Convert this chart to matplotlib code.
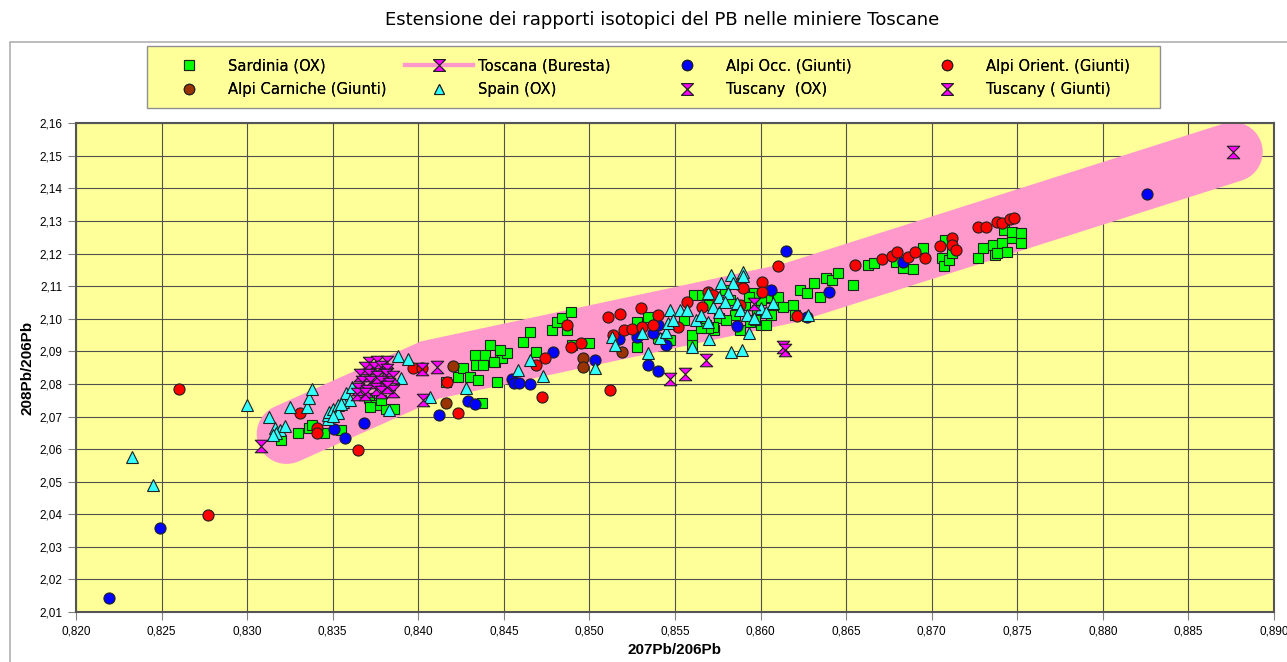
import matplotlib.pyplot as plt
from matplotlib.path import Path
from matplotlib.lines import Line2D
from matplotlib.patches import Rectangle
from matplotlib.ticker import FuncFormatter, MultipleLocator

# valori (207Pb/206Pb, 208Pb/206Pb)
sardinia_x = [0.8320, 0.8330, 0.8336, 0.8338, 0.8345, 0.8355, 0.8371, 0.8375, 0.8372, 0.8381,
              0.8386, 0.8378, 0.8416, 0.8423, 0.8426, 0.8430, 0.8433, 0.8434, 0.8435, 0.8439,
              0.8442, 0.8438, 0.8445, 0.8448, 0.8449, 0.8452, 0.8446, 0.8437, 0.8469, 0.8461,
              0.8465, 0.8478, 0.8481, 0.8484, 0.8489, 0.8487, 0.8490, 0.8500, 0.8528, 0.8534,
              0.8528, 0.8540, 0.8547, 0.8560, 0.8560, 0.8561, 0.8566, 0.8570, 0.8576, 0.8582,
              0.8585, 0.8591, 0.8594, 0.8598, 0.8603, 0.8606, 0.8610, 0.8568, 0.8573, 0.8588,
              0.8579, 0.8600, 0.8555, 0.8619, 0.8620, 0.8623, 0.8627, 0.8631, 0.8638, 0.8642,
              0.8645, 0.8635, 0.8654, 0.8663, 0.8666, 0.8679, 0.8683, 0.8689, 0.8695, 0.8706,
              0.8707, 0.8710, 0.8708, 0.8712, 0.8727, 0.8730, 0.8736, 0.8737, 0.8741, 0.8742,
              0.8747, 0.8747, 0.8752, 0.8752, 0.8744, 0.8738, 0.8610, 0.8604, 0.8613, 0.8600,
              0.8596, 0.8593, 0.8580, 0.8572, 0.8569, 0.8565, 0.8597, 0.8603, 0.8448, 0.8444]
sardinia_y = [2.0628, 2.0649, 2.0665, 2.0674, 2.0649, 2.0659, 2.0757, 2.0736, 2.0729, 2.0723,
              2.0723, 2.0751, 2.0806, 2.0822, 2.0849, 2.0822, 2.0889, 2.0858, 2.0812, 2.0889,
              2.0920, 2.0858, 2.0867, 2.0898, 2.0880, 2.0895, 2.0806, 2.0742, 2.0898, 2.0929,
              2.0960, 2.0966, 2.0990, 2.1003, 2.1021, 2.0966, 2.0920, 2.0926, 2.0914, 2.1006,
              2.0990, 2.0941, 2.0935, 2.0920, 2.0950, 2.1073, 2.1073, 2.1043, 2.1003, 2.1058,
              2.1012, 2.1043, 2.0990, 2.1027, 2.1064, 2.1012, 2.1043, 2.0981, 2.0966, 2.0966,
              2.1089, 2.0981, 2.0996, 2.1043, 2.1012, 2.1089, 2.1080, 2.1110, 2.1125, 2.1119,
              2.1141, 2.1067, 2.1104, 2.1165, 2.1171, 2.1174, 2.1156, 2.1153, 2.1217, 2.1186,
              2.1162, 2.1180, 2.1242, 2.1202, 2.1186, 2.1217, 2.1226, 2.1196, 2.1233, 2.1272,
              2.1248, 2.1266, 2.1263, 2.1233, 2.1205, 2.1202, 2.1067, 2.1067, 2.1036, 2.1058,
              2.1079, 2.1067, 2.0996, 2.0975, 2.0972, 2.0972, 2.0996, 2.0981, 2.0904, 2.0867]

buresta_x = [0.8323, 0.8407, 0.8617, 0.8876]
buresta_y = [2.0646, 2.0843, 2.1079, 2.1512]

alpi_occ_x = [0.8219, 0.8249, 0.8351, 0.8357, 0.8368, 0.8412, 0.8429, 0.8433, 0.8455, 0.8456,
              0.8459, 0.8465, 0.8479, 0.8503, 0.8534, 0.8540, 0.8545, 0.8528, 0.8517, 0.8537,
              0.8540, 0.8586, 0.8606, 0.8615, 0.8627, 0.8640, 0.8683, 0.8826]
alpi_occ_y = [2.0143, 2.0359, 2.0662, 2.0634, 2.0680, 2.0705, 2.0747, 2.0738, 2.0815, 2.0803,
              2.0803, 2.0800, 2.0898, 2.0874, 2.0858, 2.0840, 2.0920, 2.0944, 2.0938, 2.0957,
              2.0981, 2.0978, 2.1089, 2.1208, 2.1006, 2.1082, 2.1174, 2.1383]

alpi_orient_x = [0.8260, 0.8277, 0.8331, 0.8341, 0.8341, 0.8365, 0.8397, 0.8402, 0.8417, 0.8423,
                 0.8469, 0.8474, 0.8472, 0.8487, 0.8489, 0.8495, 0.8512, 0.8511, 0.8518, 0.8530,
                 0.8520, 0.8525, 0.8531, 0.8537, 0.8540, 0.8514, 0.8552, 0.8557, 0.8566, 0.8569,
                 0.8572, 0.8587, 0.8590, 0.8601, 0.8601, 0.8610, 0.8621, 0.8588, 0.8655, 0.8671,
                 0.8677, 0.8680, 0.8686, 0.8690, 0.8696, 0.8705, 0.8712, 0.8712, 0.8714, 0.8727,
                 0.8732, 0.8738, 0.8741, 0.8746, 0.8748]
alpi_orient_y = [2.0786, 2.0399, 2.0711, 2.0665, 2.0649, 2.0597, 2.0849, 2.0849, 2.0806, 2.0711,
                 2.0858, 2.0880, 2.0760, 2.0981, 2.0914, 2.0926, 2.0782, 2.1006, 2.1015, 2.1033,
                 2.0966, 2.0969, 2.0975, 2.0981, 2.1012, 2.0951, 2.0975, 2.1052, 2.1036, 2.1082,
                 2.1073, 2.1107, 2.1095, 2.1113, 2.1082, 2.1162, 2.1009, 2.1043, 2.1165, 2.1183,
                 2.1193, 2.1205, 2.1190, 2.1205, 2.1186, 2.1223, 2.1248, 2.1226, 2.1211, 2.1281,
                 2.1281, 2.1297, 2.1294, 2.1306, 2.1309]

alpi_carniche_x = [0.8420, 0.8416, 0.8496, 0.8496, 0.8519]
alpi_carniche_y = [2.0855, 2.0742, 2.0880, 2.0852, 2.0898]

spain_x = [0.8233, 0.8245, 0.8300, 0.8313, 0.8316, 0.8319, 0.8322, 0.8317, 0.8315, 0.8325,
           0.8335, 0.8336, 0.8338, 0.8347, 0.8347, 0.8348, 0.8350, 0.8353, 0.8353, 0.8356,
           0.8358, 0.8360, 0.8361, 0.8355, 0.8350, 0.8388, 0.8394, 0.8390, 0.8383, 0.8407,
           0.8428, 0.8465, 0.8458, 0.8473, 0.8503, 0.8513, 0.8515, 0.8531, 0.8534, 0.8541,
           0.8545, 0.8546, 0.8560, 0.8570, 0.8547, 0.8553, 0.8549, 0.8557, 0.8562, 0.8565,
           0.8569, 0.8572, 0.8576, 0.8577, 0.8583, 0.8584, 0.8590, 0.8581, 0.8586, 0.8588,
           0.8592, 0.8593, 0.8596, 0.8600, 0.8603, 0.8607, 0.8576, 0.8579, 0.8583, 0.8589,
           0.8569, 0.8628, 0.8590]
spain_y = [2.0576, 2.0490, 2.0735, 2.0699, 2.0665, 2.0659, 2.0671, 2.0649, 2.0643, 2.0730,
           2.0730, 2.0757, 2.0785, 2.0693, 2.0705, 2.0714, 2.0723, 2.0736, 2.0711, 2.0745,
           2.0772, 2.0751, 2.0791, 2.0739, 2.0702, 2.0886, 2.0877, 2.0818, 2.0720, 2.0760,
           2.0788, 2.0874, 2.0843, 2.0824, 2.0849, 2.0944, 2.0920, 2.0957, 2.0895, 2.0941,
           2.0960, 2.0987, 2.0914, 2.0938, 2.1027, 2.1027, 2.0996, 2.1027, 2.0996, 2.1012,
           2.0990, 2.1036, 2.1067, 2.1110, 2.1134, 2.1110, 2.1144, 2.1079, 2.1049, 2.1027,
           2.1012, 2.0957, 2.1003, 2.1033, 2.1021, 2.1049, 2.1021, 2.1052, 2.0898, 2.0904,
           2.1079, 2.1012, 2.1130]

tuscany_ox_x = [0.8371, 0.8376, 0.8382, 0.8369, 0.8374, 0.8378, 0.8382, 0.8366, 0.8371, 0.8376,
                0.8381, 0.8385, 0.8367, 0.8372, 0.8378, 0.8383, 0.8365, 0.8370, 0.8375, 0.8385,
                0.8364, 0.8369, 0.8378, 0.8382]
tuscany_ox_y = [2.0864, 2.0867, 2.0867, 2.0849, 2.0849, 2.0852, 2.0843, 2.0828, 2.0828, 2.0822,
                2.0828, 2.0822, 2.0806, 2.0806, 2.0806, 2.0800, 2.0785, 2.0779, 2.0785, 2.0779,
                2.0770, 2.0770, 2.0776, 2.0791]

tuscany_giunti_x = [0.8308, 0.8402, 0.8411, 0.8403, 0.8568, 0.8556, 0.8547, 0.8613, 0.8614, 0.8596]
tuscany_giunti_y = [2.0610, 2.0846, 2.0852, 2.0751, 2.0874, 2.0831, 2.0815, 2.0914, 2.0904, 2.1046]

legend_labels = ["Sardinia (OX)", "Alpi Carniche (Giunti)",
                 "Toscana (Buresta)", "Spain (OX)",
                 "Alpi Occ. (Giunti)", "Tuscany  (OX)",
                 "Alpi Orient. (Giunti)", "Tuscany ( Giunti)"]

# marker a clessidra
hourglass = Path([(-1, 1), (1, 1), (-1, -1), (1, -1), (-1, 1)],
                 [Path.MOVETO, Path.LINETO, Path.LINETO, Path.LINETO, Path.CLOSEPOLY])

W, H = 1287, 662
fig = plt.figure(figsize=(W / 100, H / 100), dpi=100)
fig.patches.append(Rectangle((10 / W, -0.1), 1.2, 1.1 - 42 / H, transform=fig.transFigure,
                             fill=False, edgecolor="#b0b0b0", lw=1.2))
ax = fig.add_axes([76 / W, 50 / H, 1198 / W, 488.7 / H])
ax.set_facecolor("#ffff99")

edge = "#202020"
ax.plot(buresta_x, buresta_y, color="#ff99cc", lw=43, solid_capstyle="round",
        solid_joinstyle="miter", zorder=2)
ax.plot(buresta_x[-1:], buresta_y[-1:], ls="none", marker=hourglass, ms=9,
        mfc="#ff00ff", mec=edge, mew=0.8, zorder=5)

ax.plot(sardinia_x, sardinia_y, ls="none", marker="s", ms=7.5, mfc="#00ff00", mec=edge, mew=0.8, zorder=3)
ax.plot(alpi_carniche_x, alpi_carniche_y, ls="none", marker="o", ms=8, mfc="#993300", mec=edge, mew=0.8, zorder=3)
ax.plot(alpi_occ_x, alpi_occ_y, ls="none", marker="o", ms=8, mfc="#0000ff", mec=edge, mew=0.8, zorder=3)
ax.plot(alpi_orient_x, alpi_orient_y, ls="none", marker="o", ms=8, mfc="#ff0000", mec=edge, mew=0.8, zorder=3)
ax.plot(spain_x, spain_y, ls="none", marker="^", ms=8.5, mfc="#33ffff", mec=edge, mew=0.8, zorder=4)
ax.plot(tuscany_ox_x, tuscany_ox_y, ls="none", marker=hourglass, ms=9, mfc="#ff00ff", mec=edge, mew=0.8, zorder=4)
ax.plot(tuscany_giunti_x, tuscany_giunti_y, ls="none", marker=hourglass, ms=9, mfc="#ff00ff", mec=edge, mew=0.8, zorder=4)

ax.set_xlim(0.820, 0.890)
ax.set_ylim(2.01, 2.16)
ax.xaxis.set_major_locator(MultipleLocator(0.005))
ax.yaxis.set_major_locator(MultipleLocator(0.01))
ax.xaxis.set_major_formatter(FuncFormatter(lambda v, p: f"{v:.3f}".replace(".", ",")))
ax.yaxis.set_major_formatter(FuncFormatter(lambda v, p: f"{v:.2f}".replace(".", ",")))
ax.tick_params(length=6, width=0.8, color="#808080", labelsize=8.5, pad=4)
ax.grid(True, color="#505050", lw=0.8, zorder=1)
ax.set_axisbelow(True)
for s in ax.spines.values():
    s.set_color("#555555")
    s.set_linewidth(1.5)

ax.set_xlabel("207Pb/206Pb", fontsize=11, fontweight="bold", family="Liberation Sans", labelpad=4)
ax.set_ylabel("208Pb/206Pb", fontsize=11, fontweight="bold", family="Liberation Sans", labelpad=3)
for lab in ax.get_xticklabels() + ax.get_yticklabels():
    lab.set_family("Liberation Sans")

fig.text(662 / W, 1 - 20 / H, "Estensione dei rapporti isotopici del PB nelle miniere Toscane",
         ha="center", va="center", fontsize=13)

# legenda: riquadro + 4 colonne
fig.patches.append(Rectangle((147 / W, 1 - 108 / H), 1013 / W, 62 / H, transform=fig.transFigure,
                             facecolor="#ffff99", edgecolor="#909090", lw=1.0, zorder=0))

def h(marker, color, ms=7.5):
    return Line2D([], [], ls="none", marker=marker, ms=ms, mfc=color, mec=edge, mew=0.8)

handles = [h("s", "#00ff00", 7), h("o", "#993300"),
           Line2D([], [], color="#ff99cc", lw=3, marker=hourglass, ms=8.5, mfc="#ff00ff", mec=edge, mew=0.8),
           h("^", "#33ffff"),
           h("o", "#0000ff"), h(hourglass, "#ff00ff", 8.5),
           h("o", "#ff0000"), h(hourglass, "#ff00ff", 8.5)]
col_x = [155, 405, 653, 913]
for i, cx in enumerate(col_x):
    lg = fig.legend(handles[2 * i:2 * i + 2], legend_labels[2 * i:2 * i + 2],
                    loc="center left", bbox_to_anchor=(cx / W, 1 - 78 / H),
                    bbox_transform=fig.transFigure, frameon=False, fontsize=10.6,
                    handlelength=4.6, handletextpad=0.35, labelspacing=0.6,
                    borderpad=0, borderaxespad=0)
    fig.add_artist(lg)

fig.savefig("out.png", dpi=100)
